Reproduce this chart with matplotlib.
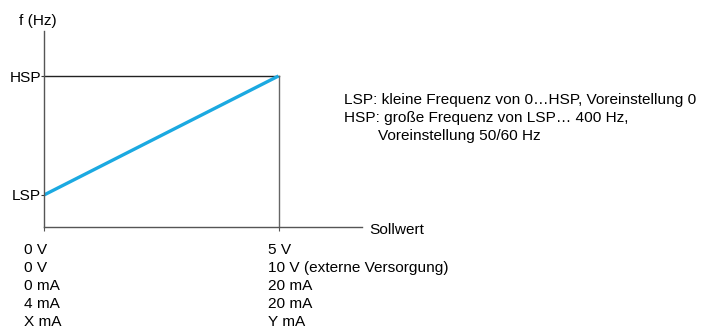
import matplotlib
matplotlib.use("Agg")
import matplotlib.pyplot as plt

plt.rcParams['font.family'] = ['Liberation Sans', 'DejaVu Sans']
FS = 11.1

# Kennlinie: Sollwert (0..max) -> Frequenz (LSP..HSP)
setpoint = [0.0, 1.0]
freq = [0.0, 1.0]
freq_labels = ['LSP', 'HSP']

left_labels = ['0 V', '0 V', '0 mA', '4 mA', 'X mA']
right_labels = ['5 V', '10 V (externe Versorgung)', '20 mA', '20 mA', 'Y mA']

notes = ['LSP: kleine Frequenz von 0\u2026HSP, Voreinstellung 0',
         'HSP: gro\u00dfe Frequenz von LSP\u2026 400 Hz,',
         'Voreinstellung 50/60 Hz']

W, H = 707, 331
fig = plt.figure(figsize=(W / 100, H / 100), dpi=100)

# axes box in pixels: x 44..362, y 31..227
x0, x1, y0, y1 = 44, 362, 31, 227
ax = fig.add_axes([x0 / W, (H - y1) / H, (x1 - x0) / W, (y1 - y0) / H])

px_per_x = 278.5 - 44
px_per_y = 195 - 76
ax.set_xlim(0, (x1 - x0) / px_per_x)
ax.set_ylim(-(y1 - 195) / px_per_y, (195 - y0) / px_per_y)

for s in ['top', 'right']:
    ax.spines[s].set_visible(False)
for s in ['left', 'bottom']:
    ax.spines[s].set_color('#555555')
    ax.spines[s].set_linewidth(1.0)

ax.set_yticks(freq)
ax.set_yticklabels(freq_labels, fontsize=FS)
ax.tick_params(axis='y', direction='out', length=2, pad=0, color='#333333')
ax.set_xticks(setpoint)
ax.set_xticklabels([])
ax.tick_params(axis='x', direction='out', length=3, color='#555555')

# Hilfslinien bei HSP und Sollwert-Maximum
ax.plot([setpoint[0], setpoint[1]], [freq[1], freq[1]], color='#222222', lw=1.0)
ax.plot([setpoint[1], setpoint[1]], [ax.get_ylim()[0], freq[1]],
        color='#666666', lw=1.0, clip_on=False)

ax.plot(setpoint, freq, color='#1BA9E1', lw=2.4, solid_capstyle='butt')

# Bezeichnungen unter der Sollwertachse (Grundlinien 18 px Abstand)
for i, (a, b) in enumerate(zip(left_labels, right_labels)):
    dy = -27 - 18 * i
    ax.annotate(a, xy=(setpoint[0], 0), xycoords=('data', 'axes fraction'),
                xytext=(-20, dy), textcoords='offset pixels',
                ha='left', va='baseline', fontsize=FS)
    ax.annotate(b, xy=(setpoint[1], 0), xycoords=('data', 'axes fraction'),
                xytext=(-11, dy), textcoords='offset pixels',
                ha='left', va='baseline', fontsize=FS)

fig.text(369 / W, 1 - 234 / H, 'Sollwert', ha='left', va='baseline', fontsize=FS)
fig.text(19 / W, 1 - 25 / H, 'f (Hz)', ha='left', va='baseline', fontsize=FS)

fig.text(344 / W, 1 - 104 / H, notes[0], ha='left', va='baseline', fontsize=FS)
fig.text(344 / W, 1 - 122 / H, notes[1], ha='left', va='baseline', fontsize=FS)
fig.text(378 / W, 1 - 140 / H, notes[2], ha='left', va='baseline', fontsize=FS)

fig.savefig('out.png', dpi=100)
